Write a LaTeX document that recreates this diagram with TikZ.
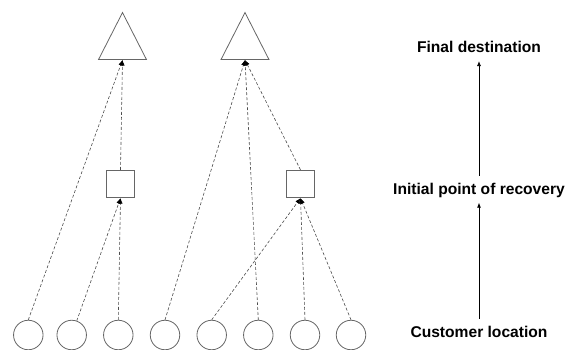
\documentclass[tikz,border=0pt]{standalone}
\usepackage{fontspec}
\setmainfont{Liberation Sans}
\usepackage{tikz}
\usetikzlibrary{arrows.meta, shapes.geometric}

\begin{document}
\begin{tikzpicture}[
		x=1pt, y=-1pt,
		line width=0.8pt,
		every node/.style={inner sep=0pt},
		customer/.style={circle, draw=black!60, minimum size=29.5pt},
		recovery/.style={rectangle, draw=black!60, minimum size=27.5pt},
		destination/.style={isosceles triangle, isosceles triangle stretches, shape border rotate=90, draw=black!60, minimum width=48pt, minimum height=47pt, anchor=south},
		flow/.style={black!70, line width=0.6pt, dash pattern=on 3pt off 2pt, -{Latex[length=5.5pt, width=4.5pt, color=black]}},
		level/.style={anchor=base, font=\fontsize{15.6}{18}\selectfont\bfseries, text height=11.3pt, text depth=1pt, inner ysep=7pt},
		levelarrow/.style={black, line width=0.7pt, -{Latex[length=5pt, width=4pt]}}
		]
	\useasboundingbox (0,0) rectangle (565,350);

	% Customer locations
	\foreach \n/\x in {1/28.3, 2/71.7, 3/118.3, 4/165, 5/211.7, 6/258.3, 7/305, 8/351}{
		\node[customer] (cust\n) at (\x, 335) {};
	}

	% Initial points of recovery
	\node[recovery] (ipr1) at (120.5, 184) {};
	\node[recovery] (ipr2) at (300.5, 184) {};

	% Final destinations (placed by the middle of the base)
	\node[destination] (fd1) at (122.5, 60) {};
	\node[destination] (fd2) at (245, 60) {};

	% Returns into the network
	\draw[flow] (cust2) -- (ipr1.south);
	\foreach \a/\b in {cust1/fd1, ipr1/fd1, cust3/ipr1, cust4/fd2, cust6/fd2, ipr2/fd2, cust5/ipr2, cust7/ipr2, cust8/ipr2}{
		\draw[flow] (\a.north) -- (\b.south);
	}

	% Levels
	\node[level] (lblfd) at (479, 52.7) {Final destination};
	\node[level] (lblipr) at (479, 194.3) {Initial point of recovery};
	\node[level] (lblcust) at (479, 337.3) {Customer location};
	\draw[levelarrow] (lblipr) -- (lblfd);
	\draw[levelarrow] (lblcust) -- (lblipr);

\end{tikzpicture}
\end{document}
